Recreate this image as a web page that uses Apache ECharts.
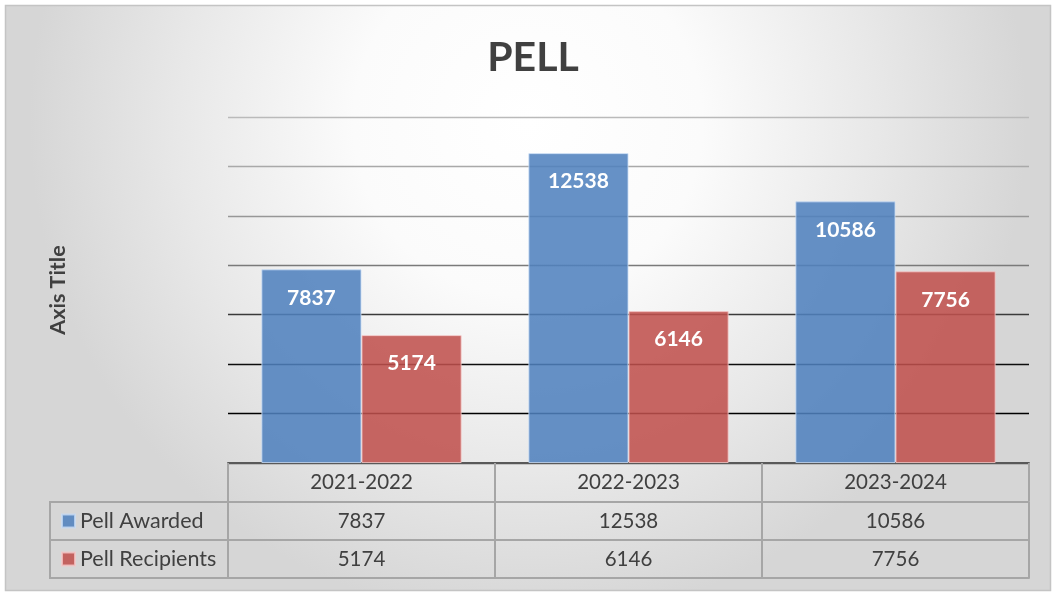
<!DOCTYPE html>
<html><head><meta charset="utf-8">
<script src="https://cdn.jsdelivr.net/npm/echarts@6/dist/echarts.min.js"></script>
<style>html,body{margin:0;padding:0;background:#fff}#c{width:1057px;height:593px}</style>
</head><body><div id="c"></div>
<script>
const chartTitle = 'PELL';
const axisTitle = 'Axis Title';
const categories = ['2021-2022', '2022-2023', '2023-2024'];
const seriesNames = ['Pell Awarded', 'Pell Recipients'];
const pellAwarded = [7837, 12538, 10586];
const pellRecipients = [5174, 6146, 7756];
const yMin = 0, yMax = 14000, yInterval = 2000;

const FONT = 'Lato, "Open Sans", sans-serif';
const TXT = '#404040';
const CELL = '#a6a6a6';
const ROW = 38;

const chart = echarts.init(document.getElementById('c'), null, {renderer: 'canvas'});

function tableAxis(data, offset, opts) {
  return Object.assign({
    type: 'category', data: data, gridIndex: 0, position: 'bottom', offset: offset,
    axisLine: {show: true, lineStyle: {color: CELL, width: 2}},
    axisTick: {show: true, interval: 0, length: ROW, alignWithLabel: false, lineStyle: {color: CELL, width: 2}},
    axisLabel: {show: true, interval: 0, fontFamily: FONT, fontSize: 20.5, color: TXT, margin: 9},
    splitLine: {show: false}
  }, opts || {});
}

const legendText = {fontFamily: FONT, fontSize: 21.5, color: TXT};

const option = {
  animation: false,
  title: {
    text: chartTitle, left: 528, top: 32, textAlign: 'center',
    textStyle: {fontFamily: FONT, fontWeight: 'bold', fontSize: 41, color: TXT}
  },
  legend: [
    {data: [seriesNames[0]], left: 56, top: 505, itemWidth: 13, itemHeight: 13, icon: 'rect', itemGap: 0,
     selectedMode: false, textStyle: legendText},
    {data: [seriesNames[1]], left: 56, top: 543, itemWidth: 13, itemHeight: 13, icon: 'rect', itemGap: 0,
     selectedMode: false, textStyle: legendText}
  ],
  grid: {left: 228, right: 28, top: 117, bottom: 130, containLabel: false},
  xAxis: [
    tableAxis(categories, 0, {axisLine: {show: true, lineStyle: {color: '#595959', width: 2}}}),
    tableAxis(pellAwarded.map(String), ROW + 1),
    tableAxis(pellRecipients.map(String), 2 * ROW + 1),
    tableAxis(categories, 3 * ROW + 1, {axisTick: {show: false}, axisLabel: {show: false}})
  ],
  yAxis: {
    type: 'value', min: yMin, max: yMax, interval: yInterval,
    name: axisTitle, nameLocation: 'middle', nameRotate: 90, nameGap: 159,
    nameTextStyle: {fontFamily: FONT, fontWeight: 'bold', fontSize: 21.5, color: TXT},
    axisLine: {show: false}, axisTick: {show: false}, axisLabel: {show: false},
    splitLine: {show: true, lineStyle: {width: 1.3,
      color: ['#595959', '#000000', '#0d0d0d', '#3a3a3a', '#7a7a7a', '#979797', '#a9a9a9', '#bababa']}}
  },
  series: [
    {name: seriesNames[0], type: 'bar', data: pellAwarded, xAxisIndex: 0,
     barGap: '0%', barCategoryGap: '25%',
     itemStyle: {color: 'rgba(79,129,189,0.87)', borderColor: 'rgba(200,220,245,0.8)', borderWidth: 1},
     label: {show: true, position: 'insideTop', distance: 18, color: '#fff', fontFamily: FONT,
             fontWeight: 'bold', fontSize: 21}},
    {name: seriesNames[1], type: 'bar', data: pellRecipients, xAxisIndex: 0,
     barGap: '0%', barCategoryGap: '25%',
     itemStyle: {color: 'rgba(192,80,77,0.87)', borderColor: 'rgba(245,200,200,0.8)', borderWidth: 1},
     label: {show: true, position: 'insideTop', distance: 18, color: '#fff', fontFamily: FONT,
             fontWeight: 'bold', fontSize: 21}}
  ],
  graphic: [
    {type: 'rect', z: -100, silent: true, shape: {x: 5.5, y: 5.5, width: 1045, height: 585},
     style: {fill: new echarts.graphic.RadialGradient(0.5, 0.2, 0.85, [
       {offset: 0, color: '#ffffff'}, {offset: 0.35, color: '#fbfbfb'},
       {offset: 0.7, color: '#e8e8e8'}, {offset: 1, color: '#d6d6d6'}]),
       stroke: '#c4c4c4', lineWidth: 1.5}},
    {type: 'rect', silent: true, shape: {x: 50, y: 463 + ROW + 1, width: 178, height: ROW},
     style: {fill: 'none', stroke: CELL, lineWidth: 2}},
    {type: 'rect', silent: true, shape: {x: 50, y: 463 + 2 * ROW + 1, width: 178, height: ROW},
     style: {fill: 'none', stroke: CELL, lineWidth: 2}}
  ]
};
chart.setOption(option);
</script></body></html>
